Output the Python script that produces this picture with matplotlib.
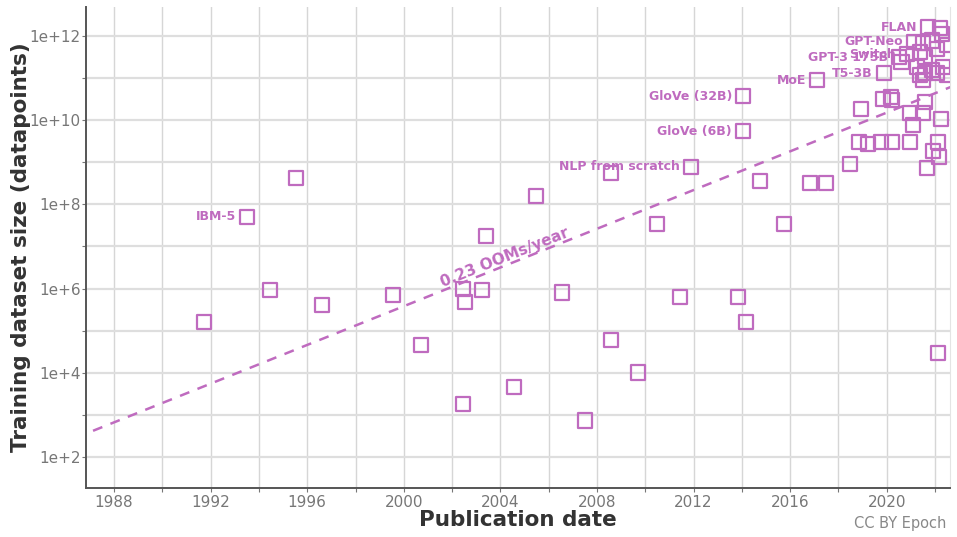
import numpy as np
import matplotlib
matplotlib.use("Agg")
import matplotlib.pyplot as plt
from matplotlib.ticker import FixedLocator, FuncFormatter

PURPLE = "#bf6bbf"

# publication date (decimal year) and training dataset size (log10 datapoints)
years = [1991.73, 1993.51, 1994.46, 1995.54, 1996.61, 1999.55, 2000.71, 2002.45,
         2002.45, 2002.53, 2003.24, 2003.40, 2004.56, 2005.47, 2006.55, 2007.50,
         2008.58, 2008.58, 2009.70, 2010.48, 2011.44, 2011.89, 2013.84, 2014.05,
         2014.05, 2014.17, 2014.75, 2015.74, 2016.82, 2017.48, 2017.11, 2018.48,
         2018.93, 2018.85, 2019.22, 2019.76, 2019.84, 2019.88, 2020.17, 2020.21,
         2020.21, 2020.96, 2020.96, 2021.08, 2021.66, 2021.58, 2021.50, 2022.24,
         2021.91, 2022.16, 2022.12, 2022.12, 2020.50, 2020.84, 2021.13, 2021.71,
         2022.20, 2021.50, 2021.87, 2022.29, 2022.49, 2021.37, 2021.58, 2020.62,
         2021.25, 2021.37, 2021.58, 2021.87, 2022.08, 2022.33, 2022.49, 2021.50,
         2022.08]
log_size = [5.21, 7.70, 5.97, 8.63, 5.61, 5.85, 4.66, 3.26,
            5.99, 5.68, 5.97, 7.25, 3.66, 8.20, 5.90, 2.86,
            8.75, 4.78, 4.00, 7.53, 5.80, 8.89, 5.80, 10.57,
            9.74, 5.21, 8.56, 7.53, 8.51, 8.51, 10.95, 8.96,
            10.27, 9.48, 9.43, 9.48, 10.50, 11.12, 10.55, 10.48,
            9.48, 9.48, 10.17, 9.89, 8.86, 10.43, 10.17, 10.03,
            9.27, 9.13, 9.48, 4.47, 11.50, 11.57, 11.86, 12.21,
            12.19, 11.83, 11.90, 12.05, 11.79, 11.62, 11.50, 11.38,
            11.26, 11.07, 11.12, 11.19, 11.12, 11.26, 11.07, 10.95,
            11.69]

# labelled systems
labels = ["IBM-5", "NLP from scratch", "GloVe (32B)", "GloVe (6B)", "MoE",
          "T5-3B", "GPT-3 175B", "Switch", "GPT-Neo", "FLAN"]
label_years = [1993.51, 2011.89, 2014.05, 2014.05, 2017.11,
               2019.88, 2020.50, 2020.84, 2021.13, 2021.71]
label_logs = [7.70, 8.89, 10.57, 9.74, 10.95,
              11.12, 11.50, 11.57, 11.86, 12.21]

# fitted trend
slope = 0.23
trend_start, trend_end = 1987.13, 2023.0
trend_log0 = 2.62

fig = plt.figure(figsize=(9.57, 5.37), dpi=100)
ax = fig.add_axes([0.0899, 0.0912, 0.9028, 0.8958])

sizes = 10 ** np.array(log_size)
ax.scatter(years, sizes, marker="s", s=110, facecolors="none",
           edgecolors=PURPLE, linewidths=1.6, zorder=3)

tx = np.array([trend_start, trend_end])
ty = 10 ** (trend_log0 + slope * (tx - trend_start))
ax.plot(tx, ty, color=PURPLE, lw=1.8, ls=(0, (4, 3.5)), zorder=2)

for name, x, ly in zip(labels, label_years, label_logs):
    ax.annotate(name, (x, 10 ** ly), xytext=(-8, 0), textcoords="offset points",
                ha="right", va="center", fontsize=9, fontweight="bold",
                color=PURPLE, zorder=4)

# slope label sitting just above the trend line
lab_x = 2004.2
ax.text(lab_x, 10 ** (trend_log0 + slope * (lab_x - trend_start) + 0.2),
        f"{slope} OOMs/year", rotation=21.8, rotation_mode="anchor",
        ha="center", va="center", fontsize=11, fontweight="bold", color=PURPLE)

ax.set_yscale("log")
ax.set_xlim(1986.84, 2022.62)
ax.set_ylim(10 ** 1.26, 10 ** 12.69)

ax.xaxis.set_major_locator(FixedLocator(np.arange(1988, 2021, 4)))
ax.xaxis.set_minor_locator(FixedLocator(np.arange(1990, 2023, 4)))
ax.yaxis.set_major_locator(FixedLocator([10.0 ** k for k in range(2, 13, 2)]))
ax.yaxis.set_minor_locator(FixedLocator([10.0 ** k for k in range(1, 13, 2)]))
ax.yaxis.set_major_formatter(FuncFormatter(lambda v, p: f"1e+{int(round(np.log10(v)))}"))
ax.yaxis.set_minor_formatter(FuncFormatter(lambda v, p: ""))

ax.grid(True, axis="x", which="both", color="#d6d6d6", lw=1.0, zorder=0)
ax.grid(True, axis="y", which="both", color="#dedede", lw=1.6, zorder=0)
ax.set_axisbelow(True)

ax.spines["top"].set_visible(False)
ax.spines["right"].set_color("#e4e4e4")
ax.spines["left"].set_color("#555555")
ax.spines["bottom"].set_color("#555555")
ax.spines["left"].set_linewidth(1.4)
ax.spines["bottom"].set_linewidth(1.4)

ax.tick_params(axis="both", which="both", colors="#777777", labelsize=11,
               length=3, width=0.8)
ax.tick_params(axis="x", pad=2)
ax.tick_params(axis="y", pad=1)

ax.set_xlabel("Publication date", fontsize=15.5, fontweight="bold", color="#333333",
              labelpad=0)
ax.set_ylabel("Training dataset size (datapoints)", fontsize=15.5, fontweight="bold",
              color="#333333", labelpad=-1)

fig.text(0.989, 0.012, "CC BY Epoch", ha="right", va="bottom", fontsize=10.5,
         color="#888888")

fig.savefig("out.png", dpi=100)
